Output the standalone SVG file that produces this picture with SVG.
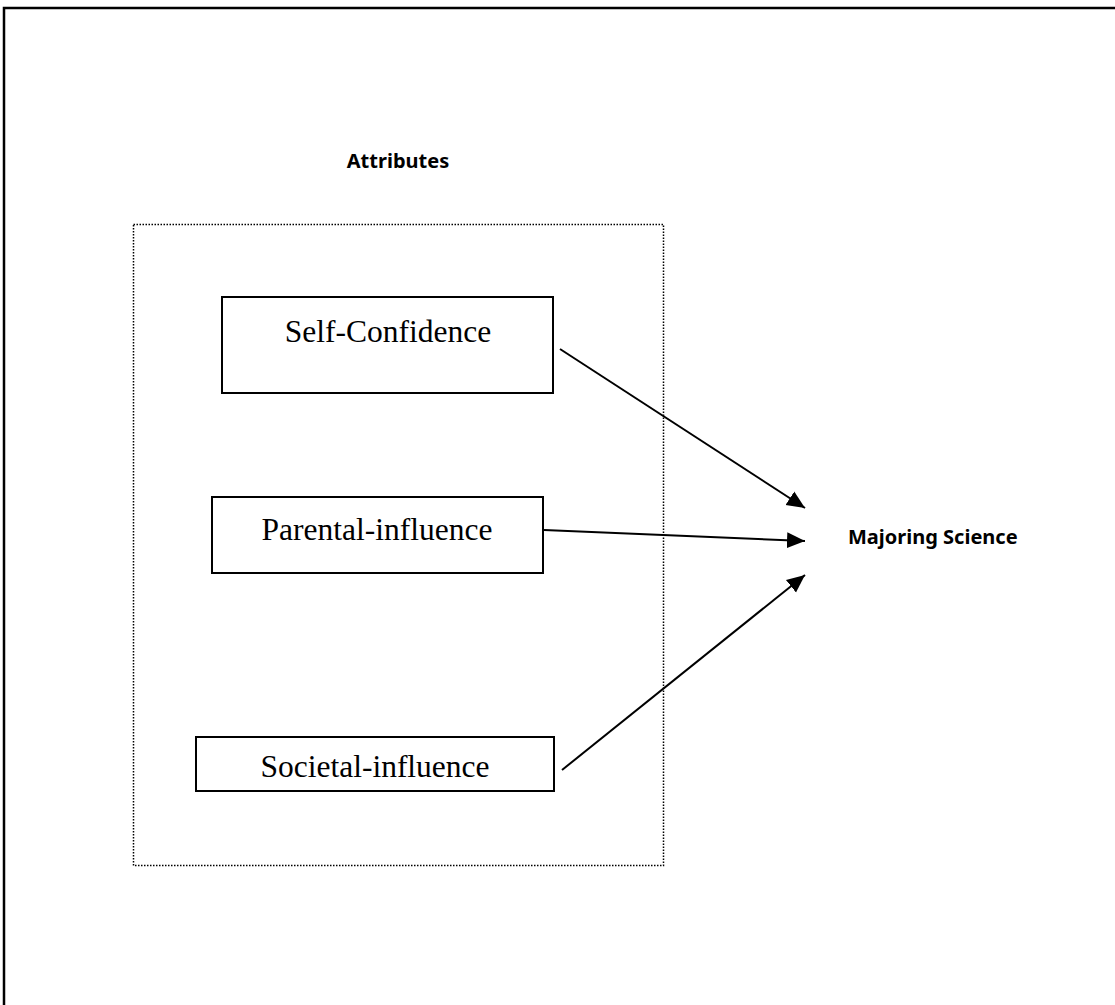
<svg xmlns="http://www.w3.org/2000/svg" width="1115" height="1005" viewBox="0 0 1115 1005">
<style>
.box{fill:#fff;stroke:#000;stroke-width:2}
.lbl{font-family:"Liberation Serif","Times New Roman",serif;font-size:31.5px;fill:#000;text-anchor:middle}
.bold{font-family:"Noto Sans","DejaVu Sans",sans-serif;font-weight:bold;font-size:20px;fill:#000}
.conn{stroke:#000;stroke-width:2;fill:none}
</style>
<defs>
<marker id="ah" markerUnits="userSpaceOnUse" markerWidth="20" markerHeight="20" viewBox="0 0 20 20" refX="18" refY="10" orient="auto">
<path d="M0,2 L18,10 L0,18 Z" fill="#000"/>
</marker>
</defs>
<rect width="1115" height="1005" fill="#fff"/>
<g id="frame">
<path d="M4,1005 V8 H1115" fill="none" stroke="#000" stroke-width="2.5"/>
</g>
<g id="attributes">
<text x="398" y="168" class="bold" text-anchor="middle">Attributes</text>
<rect x="133.5" y="224.5" width="530" height="641" fill="none" stroke="#000" stroke-width="1.5" stroke-dasharray="1.5,1.5"/>
</g>
<g id="self-confidence">
<rect class="box" x="222" y="297" width="331" height="96"/>
<text class="lbl" x="388" y="342">Self-Confidence</text>
</g>
<g id="parental-influence">
<rect class="box" x="212" y="497" width="331" height="76"/>
<text class="lbl" x="377" y="540">Parental-influence</text>
</g>
<g id="societal-influence">
<rect class="box" x="196" y="737" width="358" height="54"/>
<text class="lbl" x="375" y="777">Societal-influence</text>
</g>
<g id="majoring-science">
<text class="bold" x="848" y="544">Majoring Science</text>
</g>
<g id="connectors">
<line class="conn" x1="560" y1="349" x2="805" y2="508" marker-end="url(#ah)"/>
<line class="conn" x1="544" y1="530" x2="805" y2="541" marker-end="url(#ah)"/>
<line class="conn" x1="562" y1="770" x2="805" y2="575" marker-end="url(#ah)"/>
</g>
</svg>
